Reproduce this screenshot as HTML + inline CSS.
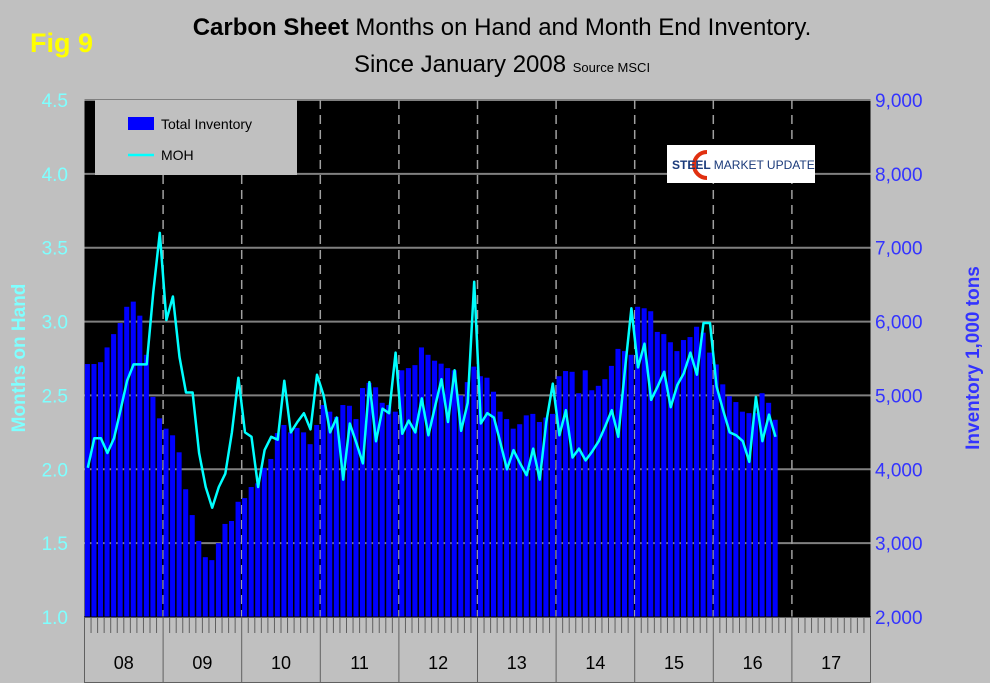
<!DOCTYPE html>
<html><head><meta charset="utf-8"><style>
body{margin:0;background:#c0c0c0;font-family:"Liberation Sans",sans-serif;}
#wrap{position:relative;width:990px;height:683px;overflow:hidden;background:#c0c0c0;}
</style></head><body>
<div id="wrap">
<svg id="svg" width="990" height="683"></svg>
</div>
<script>
const years=['08','09','10','11','12','13','14','15','16','17'];
const inventory=[5425,5425,5450,5650,5830,5980,6200,6270,6080,5550,4980,4690,
4550,4460,4230,3730,3380,3030,2810,2770,3000,3260,3300,3560,
3610,3760,3810,4020,4140,4490,4600,4500,4560,4500,4340,4600,
4870,4780,4710,4870,4860,4680,5100,5170,5110,4900,4870,4780,
5340,5370,5410,5650,5550,5470,5430,5370,5340,5000,5180,5390,
5260,5240,5050,4780,4680,4550,4610,4730,4750,4640,4700,4750,
5260,5330,5320,5030,5340,5070,5130,5220,5400,5630,5600,5550,
6200,6180,6140,5860,5830,5720,5600,5750,5790,5930,5850,5580,
5420,5150,4990,4910,4780,4760,4760,5030,4900,4670];
const moh=[2.01,2.21,2.21,2.11,2.21,2.40,2.60,2.71,2.71,2.71,3.20,3.60,
3.01,3.17,2.76,2.52,2.52,2.11,1.88,1.74,1.88,1.97,2.25,2.62,
2.25,2.22,1.88,2.13,2.22,2.20,2.60,2.25,2.32,2.38,2.27,2.64,
2.50,2.25,2.35,1.93,2.31,2.18,2.04,2.59,2.19,2.41,2.38,2.79,
2.24,2.33,2.25,2.48,2.23,2.42,2.61,2.32,2.67,2.26,2.45,3.27,
2.31,2.38,2.35,2.18,2.00,2.13,2.04,1.96,2.14,1.93,2.32,2.58,
2.23,2.40,2.08,2.14,2.06,2.12,2.19,2.29,2.40,2.22,2.67,3.09,
2.69,2.85,2.47,2.56,2.66,2.42,2.57,2.65,2.79,2.64,2.99,2.99,
2.56,2.40,2.25,2.23,2.19,2.05,2.49,2.19,2.37,2.22];
const leftTicks=['1.0','1.5','2.0','2.5','3.0','3.5','4.0','4.5'];
const rightTicks=['2,000','3,000','4,000','5,000','6,000','7,000','8,000','9,000'];

const svg=document.getElementById('svg');
const NS='http://www.w3.org/2000/svg';
const X0=84.5,X1=870.5,Y0=617,Y1=100;
const mw=(X1-X0)/120;
const xM=i=>X0+i*mw;
const yL=v=>Y0-(v-1)/3.5*(Y0-Y1);
const yR=v=>Y0-(v-2000)/7000*(Y0-Y1);
function el(t,a,txt){const e=document.createElementNS(NS,t);for(const k in a)e.setAttribute(k,a[k]);if(txt!==undefined)e.textContent=txt;svg.appendChild(e);return e;}

let e=el('rect',{x:X0,y:Y1,width:X1-X0,height:Y0-Y1,fill:'#000'});

for(let i=1;i<leftTicks.length;i++){const y=yL(1+i*0.5);
e=el('line',{x1:X0,x2:X1,y1:y,y2:y,stroke:'#808080','stroke-width':2});
}
for(let i=1;i<years.length;i++){const x=xM(i*12);
e=el('line',{x1:x,x2:x,y1:Y1,y2:Y0,stroke:'#a0a0a0','stroke-width':1.5,'stroke-dasharray':'9,6'});
}
inventory.forEach((v,i)=>{const b=el('rect',{x:xM(i)+0.4,y:yR(v),width:mw-1.5,height:Y0-yR(v),fill:'#0000ff'});
});
const pts=moh.map((v,i)=>(xM(i)+mw/2).toFixed(1)+','+yL(v).toFixed(1)).join(' ');
e=el('polyline',{points:pts,fill:'none',stroke:'#00ffff','stroke-width':2.5,'stroke-linejoin':'round'});

e=el('rect',{x:X0,y:Y0,width:X1-X0,height:66,fill:'#c0c0c0',stroke:'#000','stroke-width':1});

for(let i=0;i<=120;i++){const x=xM(i);
e=el('line',{x1:x,x2:x,y1:Y0,y2:Y0+(i%12==0?66:16),stroke:'#606060','stroke-width':1});
}
years.forEach((t,i)=>{const l=el('text',{x:xM(i*12+6),y:669,'text-anchor':'middle','font-size':18,fill:'#000'},t);
});
leftTicks.forEach((t,i)=>{const l=el('text',{x:68,y:yL(1+i*0.5)+7,'text-anchor':'end','font-size':19,fill:'#7fffff'},t);
});
rightTicks.forEach((t,i)=>{const l=el('text',{x:875,y:yR(2000+i*1000)+7,'font-size':19,fill:'#3333ff'},t);
});
e=el('text',{x:0,y:0,transform:'translate(25,358) rotate(-90)','text-anchor':'middle','font-size':19,'font-weight':'bold',fill:'#7fffff'},'Months on Hand');

e=el('text',{x:0,y:0,transform:'translate(979,358) rotate(-90)','text-anchor':'middle','font-size':19,'font-weight':'bold',fill:'#3333ff'},'Inventory 1,000 tons');

e=el('text',{x:30,y:52,'font-size':27,'font-weight':'bold',fill:'#ffff00'},'Fig 9');

e=el('text',{x:502,y:35,'text-anchor':'middle','font-size':24,fill:'#000'});
e.innerHTML='<tspan font-weight="bold">Carbon Sheet</tspan> Months on Hand and Month End Inventory.';

e=el('text',{x:502,y:72,'text-anchor':'middle','font-size':24,fill:'#000'});
e.innerHTML='Since January 2008 <tspan font-size="13">Source MSCI</tspan>';

e=el('rect',{x:95,y:100,width:202,height:75,fill:'#c0c0c0'});

e=el('rect',{x:128,y:117,width:26,height:13,fill:'#0000ff'});

e=el('text',{x:161,y:129,'font-size':14,fill:'#000'},'Total Inventory');

e=el('line',{x1:128,x2:154,y1:155,y2:155,stroke:'#00ffff','stroke-width':2.5});

e=el('text',{x:161,y:160,'font-size':14,fill:'#000'},'MOH');

e=el('rect',{x:667,y:145,width:148,height:38,fill:'#fff'});

e=el('path',{d:'M707 152 A13 13 0 1 0 707 178',fill:'none',stroke:'#e03010','stroke-width':4});

e=el('text',{x:672,y:169,'font-size':12,'font-weight':'bold',fill:'#1a3a7a'});
e.innerHTML='STEEL <tspan fill="#1a3a7a" font-weight="normal">MARKET UPDATE</tspan>';

</script>
</body></html>
